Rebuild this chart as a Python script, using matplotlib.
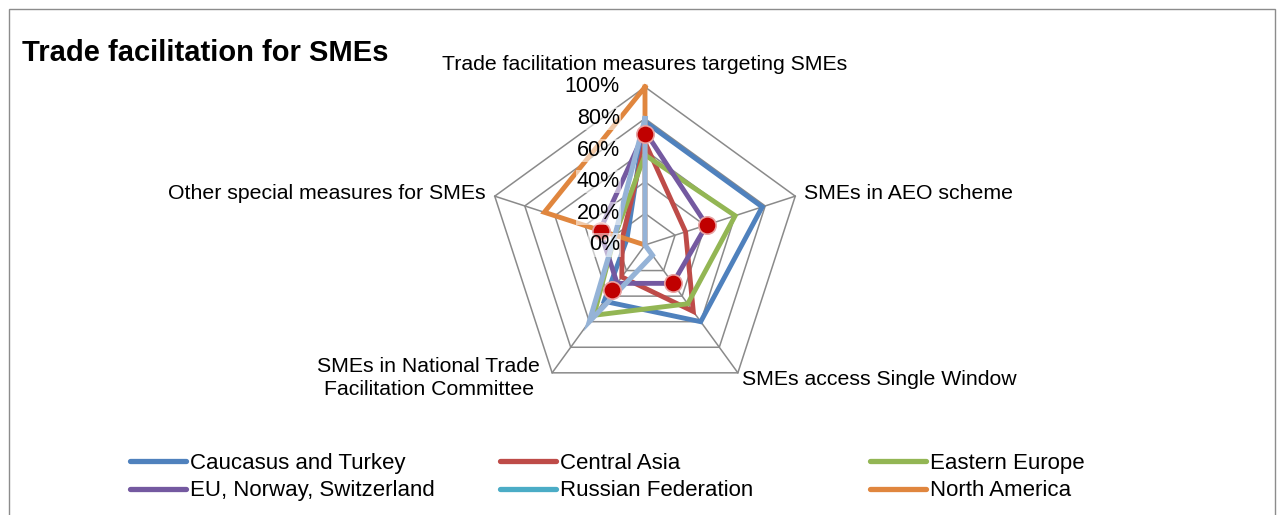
import numpy as np
import matplotlib
matplotlib.use('Agg')
import matplotlib.pyplot as plt
from matplotlib.lines import Line2D
from matplotlib.patches import Rectangle
from matplotlib.transforms import offset_copy

plt.rcParams['font.family'] = ['Liberation Sans', 'DejaVu Sans']

# categories (clockwise from top)
categories = ['Trade facilitation measures targeting SMEs',
              'SMEs in AEO scheme',
              'SMEs access Single Window',
              'SMEs in National Trade\nFacilitation Committee',
              'Other special measures for SMEs']

# values in %
caucasus_turkey = [78, 78, 60, 44, 12]
central_asia = [65, 27, 52, 25, 15]
eastern_europe = [57, 60, 46, 55, 20]
eu_norway_switz = [72, 41, 30, 30, 30]
russian_fed = [0, 0, 0, 0, 0]
north_america = [100, 0, 0, 0, 67]
unlabelled = [80, 0, 8, 60, 20]     # light blue line, not in legend
average = [70, 41, 30, 35, 29]      # red dots, not in legend

series_names = ['Caucasus and Turkey', 'Central Asia', 'Eastern Europe',
                'EU, Norway, Switzerland', 'Russian Federation', 'North America']
series_vals = [caucasus_turkey, central_asia, eastern_europe,
               eu_norway_switz, russian_fed, north_america]
colors = ['#4F81BD', '#BE4B48', '#93B654', '#7459A0', '#4BACC6', '#E0863E']

ring_vals = [20, 40, 60, 80, 100]
tick_vals = [0, 20, 40, 60, 80, 100]

W, H = 1281, 515
fig = plt.figure(figsize=(W / 100, H / 100), dpi=100)

# outer chart border
fig.add_artist(Rectangle((9 / W, -0.1), 1266 / W, (H - 9) / H + 0.1,
                         transform=fig.transFigure, fill=False,
                         edgecolor='#8c8c8c', lw=1.0))

fig.text(22 / W, 1 - 61 / H, 'Trade facilitation for SMEs', fontsize=21,
         fontweight='bold', va='baseline', ha='left')

cx, cy, R = 645, 245, 158
ax = fig.add_axes([(cx - R) / W, (H - cy - R) / H, 2 * R / W, 2 * R / H],
                  projection='polar')
ax.set_theta_offset(np.pi / 2)
ax.set_theta_direction(-1)
ax.set_ylim(0, 100)
ax.grid(False)
ax.set_xticks([])
ax.set_yticks([])
ax.spines['polar'].set_visible(False)
ax.patch.set_visible(False)

theta = np.arange(len(categories)) * 2 * np.pi / len(categories)
theta_c = np.append(theta, theta[0])

def closed(v):
    return np.append(v, v[0])

# pentagon grid + spokes
for rv in ring_vals:
    ax.plot(theta_c, [rv] * len(theta_c), color='#8a8a8a', lw=1.1,
            zorder=1, clip_on=False)
for t in theta:
    ax.plot([t, t], [0, 100], color='#8a8a8a', lw=1.1, zorder=1, clip_on=False)

for vals, c in zip(series_vals, colors):
    ax.plot(theta_c, closed(vals), color=c, lw=3.5, zorder=3,
            solid_joinstyle='miter', clip_on=False)
ax.plot(theta_c, closed(unlabelled), color='#95B3D7', lw=3.7, zorder=3,
        solid_joinstyle='miter', clip_on=False)
ax.plot(theta, average, linestyle='none', marker='o', markersize=12.5,
        markerfacecolor='#C00000', markeredgecolor='#E8A2A2',
        markeredgewidth=1.2, zorder=4, clip_on=False)

# radial tick labels
tr = offset_copy(ax.transData, fig=fig, x=-25, y=0, units='dots')
for v in tick_vals:
    ax.text(0, v, f'{v}%', transform=tr, ha='right', va='center',
            fontsize=15.5, zorder=5,
            bbox=dict(boxstyle='square,pad=0.05', fc='white', ec='none',
                      alpha=0.55))

# category labels
label_pos = [((0, 23), 'center', 'center'),
             ((9, 3), 'left', 'center'),
             ((4, -7), 'left', 'center'),
             ((-12, -5), 'right', 'center'),
             ((-9, 3), 'right', 'center')]
for t, lab, (off, ha, va) in zip(theta, categories, label_pos):
    ax.annotate(lab, xy=(t, 100), xytext=off, textcoords='offset pixels',
                ha=ha, va=va, multialignment='center', fontsize=15.3,
                linespacing=1.3, annotation_clip=False)

# legend: three columns of two rows
col_x = [130, 500, 870]
for i, x in enumerate(col_x):
    idx = [i, i + 3]
    handles = [Line2D([], [], color=colors[k], lw=3.8, solid_capstyle='round')
               for k in idx]
    fig.legend(handles, [series_names[k] for k in idx], loc='center left',
               bbox_to_anchor=(x / W, 1 - 477 / H), frameon=False,
               borderpad=0, borderaxespad=0, fontsize=16,
               labelspacing=0.3, handlelength=2.5, handletextpad=0.22)

fig.savefig('out.png', dpi=100)
